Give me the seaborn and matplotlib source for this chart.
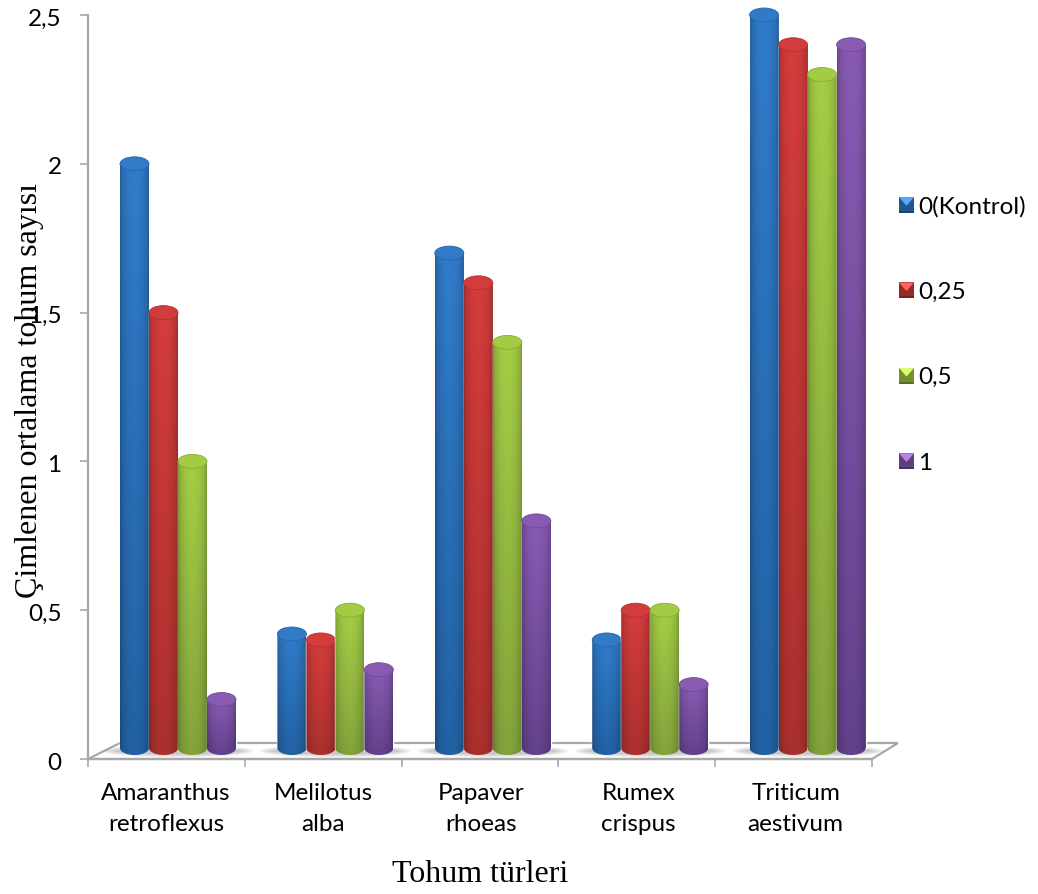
import numpy as np
import pandas as pd
import matplotlib
matplotlib.use("Agg")
import matplotlib.pyplot as plt
import seaborn as sns
from matplotlib.colors import to_rgb
from matplotlib.legend_handler import HandlerBase
from matplotlib.patches import Ellipse, Polygon, Rectangle
from matplotlib.path import Path
from matplotlib.transforms import Affine2D, ScaledTranslation

species = ["Amaranthus\nretroflexus", "Melilotus\nalba", "Papaver\nrhoeas", "Rumex\ncrispus", "Triticum\naestivum"]
doses = ["0(Kontrol)", "0,25", "0,5", "1"]
v_control = [2.0, 0.42, 1.7, 0.4, 2.5]
v_025 = [1.5, 0.4, 1.6, 0.5, 2.4]
v_05 = [1.0, 0.5, 1.4, 0.5, 2.3]
v_1 = [0.2, 0.3, 0.8, 0.25, 2.4]
yticks = [0, 0.5, 1, 1.5, 2, 2.5]
ytick_labels = ["0", "0,5", "1", "1,5", "2", "2,5"]
top_colors = ["#2F78C4", "#CF3B3B", "#A0C843", "#8558AE"]
bottom_colors = ["#215F9F", "#A62F2C", "#7F9F3A", "#604089"]
GRAY = "#A8A8A8"
FS = 17.5

W, H = 1038, 894
sns.set_theme(style="white")
plt.rcParams["font.family"] = ["Lato", "DejaVu Sans"]
fig = plt.figure(figsize=(W / 100, H / 100), dpi=100, facecolor="white")
ax = fig.add_axes([88 / W, (H - 759) / H, 784 / W, 744 / H])
px = Affine2D().scale(1, -1).translate(0, H)

df = pd.DataFrame({
    "species": np.repeat(species, len(doses)),
    "dose": [d for _ in species for d in doses],
    "value": np.array([v_control, v_025, v_05, v_1]).T.ravel(),
})
sns.barplot(data=df, x="species", y="value", hue="dose", hue_order=doses, palette=top_colors,
            width=116 / 157.4, gap=0, legend=False, ax=ax, zorder=3)

XL = (-90 / 157.4, (872 - 178) / 157.4)
YL = (0, 2.5)
ppy = 2.5 / 744                  # data per pixel in y
base = 11 * ppy
cap_h = 14 * ppy

# floor, behind bars
ax.add_patch(Polygon([(88, 759), (120, 743), (898, 743), (872, 759)], closed=True, transform=px,
                     facecolor="white", edgecolor=GRAY, lw=1.6, clip_on=False, zorder=1))
for i in range(len(species)):
    cx = 178 + 157.4 * i
    for k in range(10):
        ax.add_patch(Ellipse((cx, 751), 116 + 36 - 3.2 * k, 13 - 0.8 * k, transform=px, facecolor="#8c8c8c",
                             edgecolor="none", alpha=0.06, clip_on=False, zorder=1.5))

x_h = np.linspace(0, 1, 40)
shade = 0.76 + 0.27 * np.sin(np.pi * x_h) ** 0.5
z = 3.0
for c, cont in enumerate(ax.containers):
    t, b = np.array(to_rgb(top_colors[c])), np.array(to_rgb(bottom_colors[c]))
    for patch in cont:
        x0, w, h = patch.get_x(), patch.get_width(), patch.get_height()
        z += 0.01
        patch.set_y(base)
        patch.set_height(h - base)
        patch.set_facecolor(bottom_colors[c])
        patch.set_zorder(z)
        patch.set_clip_on(False)
        vert = np.linspace(0, 1, 60)[:, None, None]
        img = (t * (1 - vert) + b * vert) * shade[None, :, None]
        im = ax.imshow(np.clip(img, 0, 1), extent=(x0, x0 + w, base - cap_h / 2, h), aspect="auto",
                       origin="upper", interpolation="bilinear", zorder=z + 0.001)
        th = np.linspace(np.pi, 2 * np.pi, 30)
        low = np.column_stack([x0 + w / 2 + w / 2 * np.cos(th), base + cap_h / 2 * np.sin(th)])
        verts = np.vstack([[(x0, h)], low, [(x0 + w, h)], [(x0, h)]])
        im.set_clip_path(Path(verts), ax.transData)
        ax.add_patch(Ellipse((x0 + w / 2, h), w, cap_h, facecolor=np.clip(t * 1.02, 0, 1), edgecolor=t * 0.85, lw=0.6,
                             clip_on=False, zorder=z + 0.002))

ax.set_xlim(*XL)
ax.set_ylim(*YL)
ax.set_xlabel("")
ax.set_ylabel("")

for s in ["top", "right"]:
    ax.spines[s].set_visible(False)
for s in ["left", "bottom"]:
    ax.spines[s].set_color(GRAY)
    ax.spines[s].set_linewidth(1.6)

ax.set_yticks(yticks, ytick_labels, fontsize=FS, color="black")
ax.tick_params(axis="y", length=6, width=1.2, color=GRAY, pad=13, left=True)
yoff = ScaledTranslation(0, -2 / 100, fig.dpi_scale_trans)
for lab in ax.get_yticklabels():
    lab.set_transform(lab.get_transform() + yoff)
ax.set_xticks(range(len(species)), species, fontsize=FS, color="black", linespacing=1.62)
ax.tick_params(axis="x", which="major", length=0, pad=17)
off = ScaledTranslation(-12 / 100, 0, fig.dpi_scale_trans)
for lab in ax.get_xticklabels():
    lab.set_transform(lab.get_transform() + off)
edges = [XL[0] + i * (XL[1] - XL[0]) / 5 for i in range(6)]
ax.set_xticks(edges, minor=True)
ax.tick_params(axis="x", which="minor", length=6, width=1.2, color=GRAY, bottom=True)

ax.set_xlabel("Tohum türleri", family="Liberation Serif", fontsize=23, color="black")
ax.xaxis.set_label_coords(480, 860, transform=px)
ax.set_ylabel("Çimlenen ortalama tohum sayısı", family="Liberation Serif", fontsize=23, color="black", zorder=10)
ax.yaxis.set_label_coords(44, 391, transform=px)


class BevelHandler(HandlerBase):
    def create_artists(self, legend, orig, xd, yd, width, height, fontsize, trans):
        c = np.array(orig.get_facecolor()[:3])
        x0, y0, w, h = -xd, -yd, width, height
        cx, cy = x0 + w / 2, y0 + h * 0.45
        parts = [
            Rectangle((x0, y0), w, h, facecolor=c * 0.72, edgecolor="none"),
            Polygon([(x0, y0 + h), (x0 + w, y0 + h), (cx, cy)], facecolor=np.clip(c * 1.15 + 0.12, 0, 1), edgecolor="none"),
            Polygon([(x0, y0), (x0 + w, y0), (x0 + w, y0 + h * 0.12), (x0, y0 + h * 0.12)], facecolor=c * 0.55, edgecolor="none"),
        ]
        for p in parts:
            p.set_transform(trans)
        return parts


handles = [Rectangle((0, 0), 1, 1, facecolor=to_rgb(col)) for col in top_colors]
leg = ax.legend(handles, doses, handler_map={Rectangle: BevelHandler()}, loc="upper left",
                bbox_to_anchor=(899 / W, (H - 196) / H), bbox_transform=fig.transFigure, frameon=False,
                fontsize=FS, handlelength=0.62, handleheight=0.62, handletextpad=0.17, labelspacing=2.65,
                borderpad=0, borderaxespad=0)
for tx in leg.get_texts():
    tx.set_color("black")

fig.savefig("out.png", dpi=100, facecolor="white")
